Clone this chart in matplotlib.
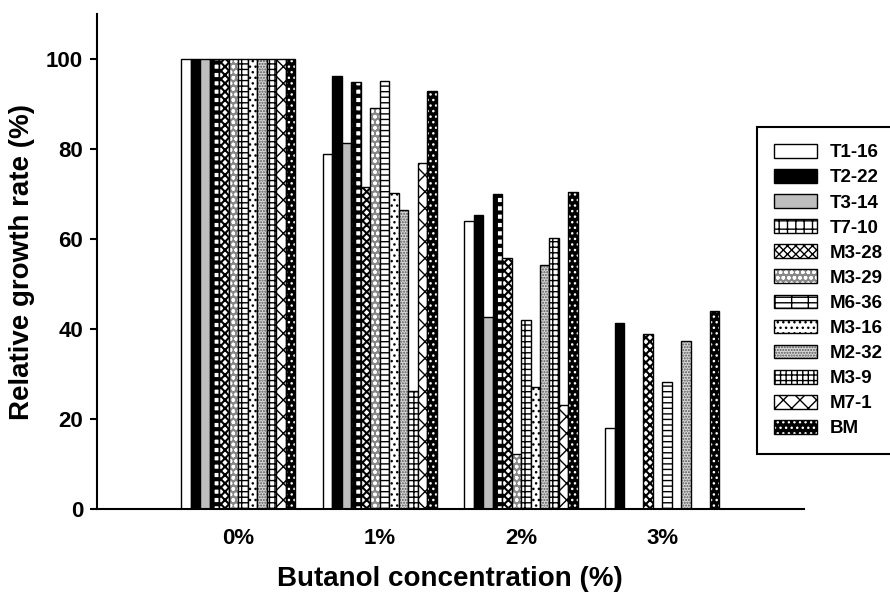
import numpy as np
import matplotlib
matplotlib.use('Agg')
import matplotlib.pyplot as plt
from matplotlib.patches import Patch

plt.rcParams['font.family'] = ['Liberation Sans', 'DejaVu Sans']
plt.rcParams['font.weight'] = 'bold'

# dati
conc = ['0%', '1%', '2%', '3%']
strains = ['T1-16', 'T2-22', 'T3-14', 'T7-10', 'M3-28', 'M3-29',
           'M6-36', 'M3-16', 'M2-32', 'M3-9', 'M7-1', 'BM']
rate_0 = [100, 100, 100, 100, 100, 100, 100, 100, 100, 100, 100, 100]
rate_1 = [78.8, 96.3, 81.4, 94.8, 71.5, 89.2, 95.2, 70.2, 66.4, 26.3, 76.8, 92.9]
rate_2 = [64.0, 65.3, 42.7, 70.1, 55.7, 12.2, 42.1, 27.2, 54.2, 60.3, 23.2, 70.4]
rate_3 = [17.9, 41.4, 0, 0, 38.9, 0, 28.3, 0, 37.3, 0, 0, 44.0]

rates = np.array([rate_0, rate_1, rate_2, rate_3])

# stile di riempimento: (colore, colore hatch, hatch, spessore hatch)
styles = [
    ('white', 'black', None, 1.0),
    ('black', 'black', None, 1.0),
    ('#bebebe', 'black', None, 1.0),
    ('white', 'black', '++', 3.0),
    ('white', 'black', 'xxxx', 1.5),
    ('#888888', 'white', 'ooo', 1.0),
    ('white', 'black', '---|', 1.0),
    ('white', 'black', '...', 1.0),
    ('#d8d8d8', '#555555', '......', 1.0),
    ('white', 'black', '+++', 1.0),
    ('white', 'black', 'xx', 1.0),
    ('black', 'white', '...', 1.0),
]

fig = plt.figure(figsize=(8.9, 5.94), dpi=100)
ax = fig.add_axes([0.109, 0.1431, 0.794, 0.8333])

x = np.arange(len(conc))
w = 0.0672
n = len(strains)
handles = []
for i, s in enumerate(strains):
    fc, hc, h, hlw = styles[i]
    pos = x - n * w / 2 + w / 2 + i * w
    with plt.rc_context({'hatch.linewidth': hlw}):
        ax.bar(pos, rates[:, i], w, color=fc, edgecolor=hc, hatch=h, linewidth=0)
        p1 = Patch(facecolor=fc, edgecolor=hc, hatch=h, linewidth=0)
    ax.bar(pos, rates[:, i], w, fill=False, edgecolor='black', linewidth=1.0)
    p2 = Patch(fill=False, edgecolor='black', linewidth=1.0)
    handles.append((p1, p2))

ax.set_xlim(-1, 4)
ax.set_ylim(0, 110)
ax.set_xticks(x)
ax.set_xticklabels(conc)
ax.set_yticks([0, 20, 40, 60, 80, 100])
ax.tick_params(axis='x', length=0, pad=14, labelsize=16)
ax.tick_params(axis='y', length=5, width=1.5, pad=5, labelsize=16)
for sp in ['top', 'right']:
    ax.spines[sp].set_visible(False)
for sp in ['left', 'bottom']:
    ax.spines[sp].set_linewidth(1.5)

ax.set_xlabel('Butanol concentration (%)', fontsize=20, fontweight='bold', labelpad=12)
ax.set_ylabel('Relative growth rate (%)', fontsize=20, fontweight='bold', labelpad=8)

leg = fig.legend(handles, strains, loc='upper left', bbox_to_anchor=(0.851, 0.786),
                 borderaxespad=0, fontsize=13.5, handlelength=2.3, handleheight=0.75,
                 handletextpad=0.65, labelspacing=0.41, borderpad=0.9,
                 fancybox=False, framealpha=1, edgecolor='black')
leg.get_frame().set_linewidth(1.5)

fig.savefig('out.png', dpi=100)
